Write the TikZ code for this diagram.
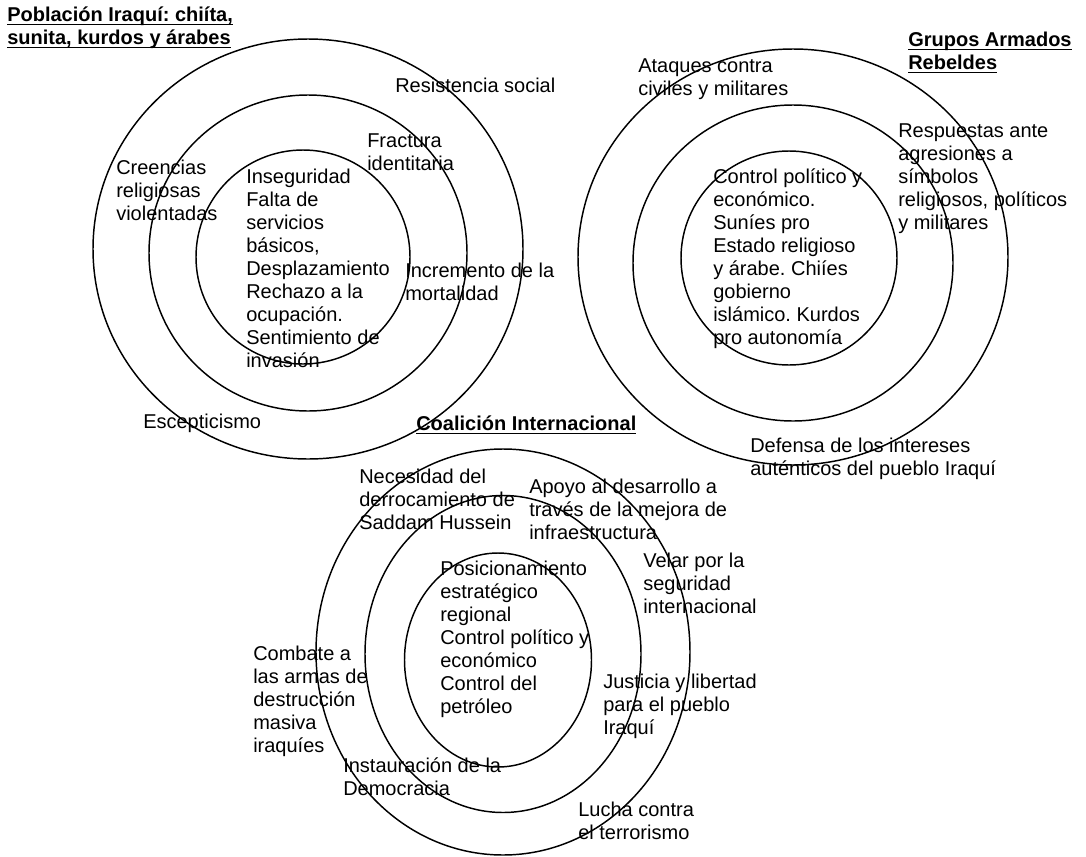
\documentclass[tikz,border=0pt]{standalone}
\usepackage{fontspec}
\setmainfont{Liberation Sans}
\usepackage{tikz}
\usetikzlibrary{shapes.geometric}
\frenchspacing

\newcommand{\subrayado}[1]{\setbox0=\hbox{#1}\rlap{\rule[-3pt]{\wd0}{1.1pt}}\box0}

\begin{document}
\begin{tikzpicture}[x=0.75pt,y=-0.75pt,
	anillo/.style 2 args={draw,ellipse,line width=1.1pt,inner sep=0pt,minimum width=#1*.75pt,minimum height=#2*.75pt},
	txt/.style={anchor=base west,inner sep=0pt,align=left,font=\fontsize{15}{17.25}\selectfont},
	titulo/.style={txt,font=\fontsize{15}{17.25}\selectfont\bfseries}]
	\useasboundingbox (0,0) rectangle (1086,857);

	% poblacion iraqui (texts placed at the baseline of their last line)
	\node[anillo={430}{420}] (pob_ext) at (308,249) {};
	\node[anillo={318}{316}] (pob_med) at (308,253) {};
	\node[anillo={214}{214}] (pob_int) at (303,257) {};
	\node[titulo] (pob_tit) at (7,44) {\subrayado{Población Iraquí: chiíta,}\\\subrayado{sunita, kurdos y árabes}};
	\node[txt] (pob_res) at (395,92) {Resistencia social};
	\node[txt] (pob_fra) at (367,170) {Fractura\\identitaria};
	\node[txt] (pob_cre) at (116,220) {Creencias\\religiosas\\violentadas};
	\node[txt] (pob_ins) at (246,367) {Inseguridad\\Falta de\\servicios\\básicos,\\Desplazamiento\\Rechazo a la\\ocupación.\\Sentimiento de\\invasión};
	\node[txt] (pob_inc) at (405,300) {Incremento de la\\mortalidad};
	\node[txt] (pob_esc) at (143,428) {Escepticismo};

	% grupos armados
	\node[anillo={430}{416}] (gru_ext) at (793,257) {};
	\node[anillo={320}{316}] (gru_med) at (793,263) {};
	\node[anillo={216}{214}] (gru_int) at (789,258) {};
	\node[titulo] (gru_tit) at (908,69) {\subrayado{Grupos Armados}\\\subrayado{Rebeldes}};
	\node[txt] (gru_ata) at (638,95) {Ataques contra\\civiles y militares};
	\node[txt] (gru_res) at (898,229) {Respuestas ante\\agresiones a\\símbolos\\religiosos, políticos\\y militares};
	\node[txt] (gru_con) at (713,344) {Control político y\\económico.\\Suníes pro\\Estado religioso\\y árabe. Chiíes\\gobierno\\islámico. Kurdos\\pro autonomía};
	\node[txt] (gru_def) at (750,475) {Defensa de los intereses\\auténticos del pueblo Iraquí};

	% coalicion internacional
	\node[anillo={374}{406}] (coa_ext) at (503,652) {};
	\node[anillo={276}{317}] (coa_med) at (503,654) {};
	\node[anillo={187}{214}] (coa_int) at (498,660) {};
	\node[titulo] (coa_tit) at (416,430) {\subrayado{Coalición Internacional}};
	\node[txt] (coa_nec) at (359,529) {Necesidad del\\derrocamiento de\\Saddam Hussein};
	\node[txt] (coa_apo) at (529,539) {Apoyo al desarrollo a\\través de la mejora de\\infraestructura};
	\node[txt] (coa_vel) at (643,613) {Velar por la\\seguridad\\internacional};
	\node[txt] (coa_pos) at (440,713) {Posicionamiento\\estratégico\\regional\\Control político y\\económico\\Control del\\petróleo};
	\node[txt] (coa_com) at (253,752) {Combate a\\las armas de\\destrucción\\masiva\\iraquíes};
	\node[txt] (coa_jus) at (603,734) {Justicia y libertad\\para el pueblo\\Iraquí};
	\node[txt] (coa_ins) at (343,795) {Instauración de la\\Democracia};
	\node[txt] (coa_luc) at (578,839) {Lucha contra\\el terrorismo};
\end{tikzpicture}
\end{document}
